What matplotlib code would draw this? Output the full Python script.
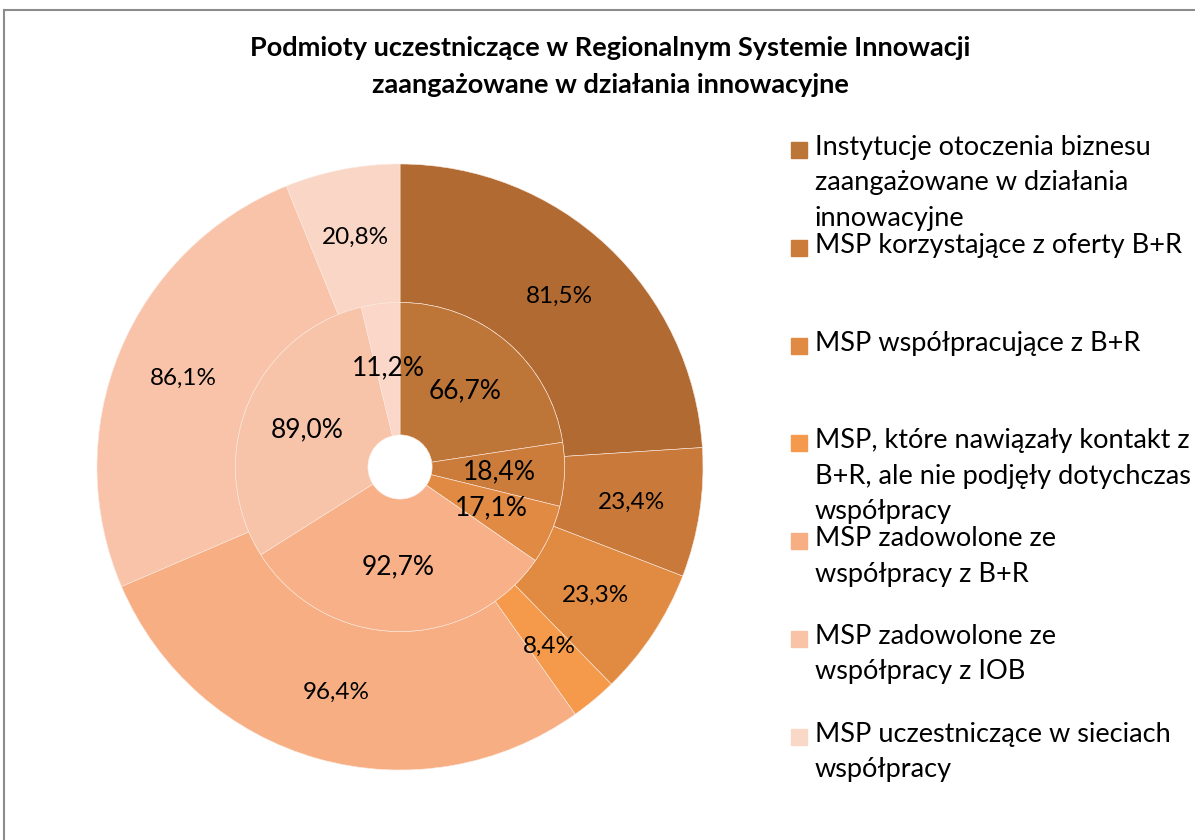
import matplotlib.pyplot as plt
from matplotlib.patches import Rectangle
from matplotlib.lines import Line2D
import numpy as np

plt.rcParams['font.family'] = ['Lato', 'DejaVu Sans']

labels = [
    "Instytucje otoczenia biznesu\nzaangażowane w działania\ninnowacyjne",
    "MSP korzystające z oferty B+R",
    "MSP współpracujące z B+R",
    "MSP, które nawiązały kontakt z\nB+R, ale nie podjęły dotychczas\nwspółpracy",
    "MSP zadowolone ze\nwspółpracy z B+R",
    "MSP zadowolone ze\nwspółpracy z IOB",
    "MSP uczestniczące w sieciach\nwspółpracy",
]
outer_vals = [81.5, 23.4, 23.3, 8.4, 96.4, 86.1, 20.8]
inner_vals = [66.7, 18.4, 17.1, 0.0, 92.7, 89.0, 11.2]

outer_colors = ['#B06A32', '#C97A3B', '#E08A42', '#F59A4A', '#F7AE83', '#F8C3A8', '#FAD6C6']
inner_colors = ['#BE7538', '#CB7B3A', '#E08A44', '#F59A4C', '#F7B087', '#F8C4A9', '#FAD7C8']
legend_colors = ['#BC7538', '#CB7B3A', '#E08A44', '#F59A4C', '#F7AE82', '#F8C3A6', '#FAD8C8']

def fmt(v):
    return ("%.1f%%" % v).replace('.', ',')

fig = plt.figure(figsize=(11.95, 8.4), dpi=100)

# frame lines (top and left visible in the original)
fig.add_artist(Line2D([4 / 1195, 4 / 1195], [0, 1 - 10 / 840], color='#8c8c8c', lw=1.5))
fig.add_artist(Line2D([4 / 1195, 1], [1 - 10 / 840, 1 - 10 / 840], color='#8c8c8c', lw=1.5))

ax = fig.add_axes([97 / 1195, 70 / 840, 606 / 1195, 606 / 840])

r_in_hole = 0.106
r_mid = 0.543
ax.pie(outer_vals, radius=1.0, startangle=90, counterclock=False, colors=outer_colors,
       wedgeprops=dict(width=1.0 - r_mid, edgecolor='#fbe9df', linewidth=0.4))
ax.pie(inner_vals, radius=r_mid, startangle=90, counterclock=False, colors=inner_colors,
       wedgeprops=dict(width=r_mid - r_in_hole, edgecolor='#fbe9df', linewidth=0.4))
ax.set_xlim(-1, 1)
ax.set_ylim(-1, 1)
ax.set_aspect('equal')
ax.axis('off')


def put_labels(vals, r, size):
    total = sum(vals)
    start = 90.0
    for v in vals:
        span = 360.0 * v / total
        if v > 0:
            mid = np.deg2rad(start - span / 2)
            ax.text(r * np.cos(mid), r * np.sin(mid), fmt(v), ha='center', va='center',
                    fontsize=size, color='black')
        start -= span

put_labels(outer_vals, (1.0 + r_mid) / 2, 17.5)
put_labels(inner_vals, (r_mid + r_in_hole) / 2 + 0.005, 19)

fig.text(610 / 1195, 1 - 48 / 840, "Podmioty uczestniczące w Regionalnym Systemie Innowacji",
         ha='center', va='center', fontsize=19.5, fontweight='bold')
fig.text(610 / 1195, 1 - 85 / 840, "zaangażowane w działania innowacyjne",
         ha='center', va='center', fontsize=19.5, fontweight='bold')

# legend
y0 = 150
step = 97.8
for i, (lab, c) in enumerate(zip(labels, legend_colors)):
    y = y0 + i * step
    fig.add_artist(Rectangle((791 / 1195, 1 - (y + 8) / 840), 16 / 1195, 16 / 840,
                             color=c, transform=fig.transFigure))
    fig.text(815 / 1195, 1 - (y - 15) / 840, lab, ha='left', va='top',
             fontsize=19.5, linespacing=1.52)

fig.savefig('out.png', dpi=100)
